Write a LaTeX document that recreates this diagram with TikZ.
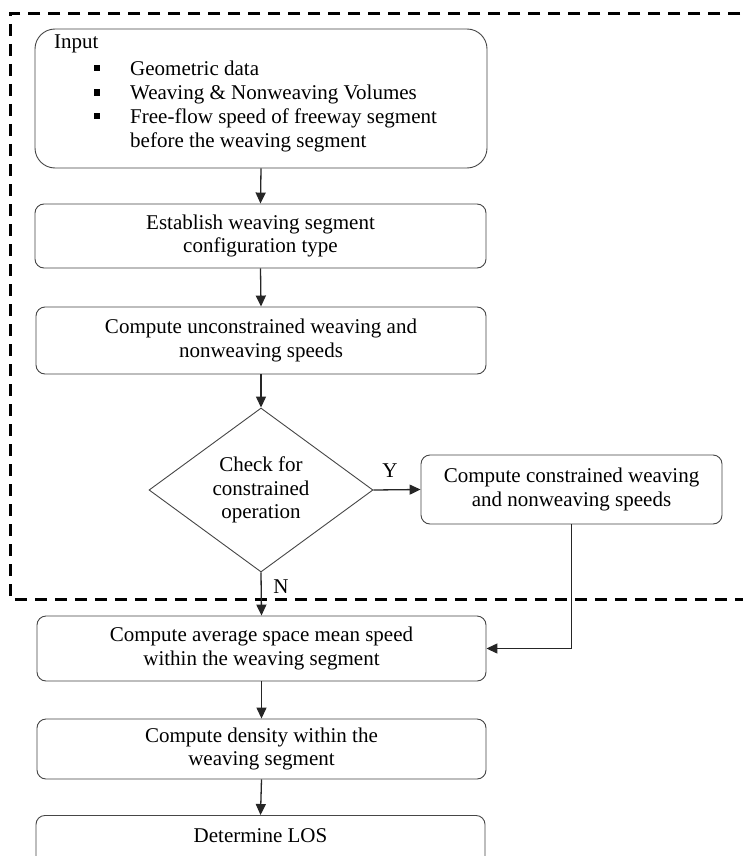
\documentclass[tikz,border=0pt]{standalone}
\usepackage{fontspec}
\setmainfont{Liberation Serif}
\usetikzlibrary{shapes.geometric,arrows.meta}
\definecolor{boxline}{RGB}{70,70,70}
\newcommand\fs{\fontsize{21}{23.5}\selectfont}
\newcommand\bul{\rule[4pt]{6pt}{6pt}}
\begin{document}
\begin{tikzpicture}[x=1pt,y=-1pt,
  box/.style={draw=boxline, line width=0.9pt, rounded corners=9pt, align=center, inner sep=0pt, font=\fs},
  txt/.style={inner sep=0pt, font=\fs, align=center},
  dia/.style={draw=boxline, line width=0.9pt, diamond, aspect=1.366, inner sep=0pt, align=center, font=\fs},
  arr/.style={draw=black!85, line width=1.3pt, -{Triangle[length=11pt,width=10pt]}},
  dashframe/.style={draw=black, line width=3pt, dash pattern=on 12pt off 8pt}]
\clip (0,0) rectangle (743,856);
\fill[white] (0,0) rectangle (743,856);
% dashed frame
\draw[dashframe] (760,14) -- (10,14) -- (10,599) -- (760,599);
% input box
\node[box, rounded corners=20pt, minimum width=452, minimum height=139] (input) at (261,98.5) {};
\node[txt, anchor=north west, align=left] (inputtext) at (54,32) {%
\renewcommand\arraystretch{1}%
\fontsize{21}{24}\selectfont
\begin{tabular}{@{}l@{}l@{}}
\multicolumn{2}{@{}l@{}}{Input}\\[2.5pt]
\hspace{40pt}\bul\hspace{30pt} & Geometric data\\
\hspace{40pt}\bul\hspace{30pt} & Weaving \& Nonweaving Volumes\\
\hspace{40pt}\bul\hspace{30pt} & Free-flow speed of freeway segment\\
 & before the weaving segment
\end{tabular}};
\node[box, minimum width=451, minimum height=64] (estab) at (260.5,236) {Establish weaving segment\\configuration type};
\node[box, minimum width=450, minimum height=67] (uncon) at (261,340.5) {Compute unconstrained weaving and\\nonweaving speeds};
\node[dia, minimum width=224, minimum height=164] (check) at (261,490) {Check for\\constrained\\operation};
\node[box, minimum width=301, minimum height=69] (cons) at (571.5,489.5) {Compute constrained weaving\\and nonweaving speeds};
\node[box, minimum width=449, minimum height=65] (avg) at (261.5,648.5) {Compute average space mean speed\\within the weaving segment};
\node[box, minimum width=449, minimum height=60] (dens) at (261.5,749) {Compute density within the\\weaving segment};
\node[box, minimum width=449, minimum height=70, anchor=north] (los) at (260.5,815) {};
\node[txt] (lostext) at (260.5,836) {Determine LOS};
% labels
\node[txt] (ylab) at (390,471) {Y};
\node[txt] (nlab) at (281,587) {N};
% connectors
\draw[arr] (input.south) -- (estab.north);
\draw[arr] (estab.south) -- (uncon.north);
\draw[arr] (uncon.south) -- (check.north);
\draw[arr] (check.east) -- (cons.west);
\draw[arr] (check.south) -- (avg.north);
\draw[arr] (cons.south) |- (avg.east);
\draw[arr] (avg.south) -- (dens.north);
\draw[arr] (dens.south) -- (los.north);
\end{tikzpicture}
\end{document}
